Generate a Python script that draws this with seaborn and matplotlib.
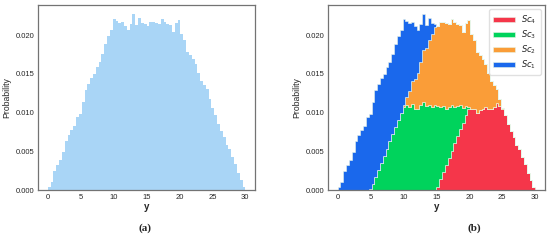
import matplotlib
matplotlib.use("Agg")
import matplotlib.pyplot as plt
import seaborn as sns
import pandas as pd
import numpy as np


# Per-bin probabilities (x 1e-4), 70 bins on [0, 30]
sc1 = [4, 10, 24, 32, 39, 49, 63, 70, 77, 82, 93, 95,
       104, 111, 110, 108, 104, 104, 100, 102, 105, 107, 105, 111,
       97, 87, 76, 68, 55, 48, 46, 29, 28, 14, 4] + [0] * 35
sc3 = [0] * 11 + [2, 8, 17, 26, 35, 44, 53, 63, 72, 81, 90, 99,
                  106, 108, 106, 110, 104, 103, 108, 113, 107, 108, 106, 108,
                  103, 92, 84, 72, 65, 58, 46, 38, 30, 19, 11, 2] + [0] * 23
sc2 = [0] * 23 + [2, 11, 20, 29, 38, 47, 56, 66, 75, 84, 93, 100,
                  102, 108, 108, 109, 106, 111, 108, 105, 103, 97, 106, 111,
                  95, 88, 78, 70, 63, 55, 46, 36, 28, 18, 9, 1] + [0] * 11
sc4 = [0] * 35 + [4, 14, 23, 32, 41, 50, 60, 69, 78, 86, 96, 104,
                  104, 103, 98, 102, 104, 106, 104, 103, 106, 111, 107, 104,
                  96, 85, 75, 68, 58, 52, 42, 33, 22, 13, 4]

labels = ["$Sc_1$", "$Sc_2$", "$Sc_3$", "$Sc_4$"]
colors = ["#1a68ec", "#fa9d38", "#00d35c", "#f5364a"]

n_bins = 70
edges = np.linspace(0, 30, n_bins + 1)
centers = (edges[:-1] + edges[1:]) / 2

rows = []
for lab, vals in zip(labels, [sc1, sc2, sc3, sc4]):
    for c, v in zip(centers, vals):
        if v > 0:
            rows.append((c, v * 1e-4, lab))
df = pd.DataFrame(rows, columns=["y", "p", "sc"])

sns.set_style("white")
plt.rcParams["font.family"] = ["Liberation Sans", "DejaVu Sans"]

fig = plt.figure(figsize=(5.5, 2.4), dpi=100)
ax1 = fig.add_axes([0.069, 0.208, 0.395, 0.771])
ax2 = fig.add_axes([0.596, 0.208, 0.395, 0.771])

# (a) all scenarios together
sns.histplot(df, x="y", weights="p", bins=n_bins, binrange=(0, 30), stat="probability",
             element="step", color="#a9d5f6", alpha=1, linewidth=0, ax=ax1)

# (b) stacked by scenario, Sc4 at the bottom
sns.histplot(df, x="y", weights="p", bins=n_bins, binrange=(0, 30), stat="probability",
             hue="sc", hue_order=labels, palette=colors, multiple="stack",
             element="step", alpha=1, linewidth=0.4, edgecolor="#e8f5e8", ax=ax2)

for ax in (ax1, ax2):
    ax.set_xticks([0, 5, 10, 15, 20, 25, 30])
    ax.set_yticks([0, 0.005, 0.01, 0.015, 0.02])
    ax.tick_params(labelsize=5.5, pad=2.5, length=0)
    ax.set_xlabel("y", fontsize=7, fontweight="bold", labelpad=1)
    ax.set_ylabel("Probability", fontsize=6.2, labelpad=3)
    for s in ax.spines.values():
        s.set_color("0.45")
        s.set_linewidth(0.9)

old = ax2.get_legend()
handles = old.legend_handles[::-1]
texts = [t.get_text() for t in old.get_texts()][::-1]
old.remove()
ax2.legend(handles, texts, loc="upper right", fontsize=6, frameon=True,
           handlelength=2.6, borderpad=0.5, labelspacing=0.3,
           edgecolor="0.85", fancybox=True)

fig.text(0.264, 0.04, "(a)", ha="center", fontsize=8, fontweight="bold",
         family=["Liberation Serif", "DejaVu Serif"])
fig.text(0.862, 0.04, "(b)", ha="center", fontsize=8, fontweight="bold",
         family=["Liberation Serif", "DejaVu Serif"])

fig.savefig("out.png", dpi=100)
